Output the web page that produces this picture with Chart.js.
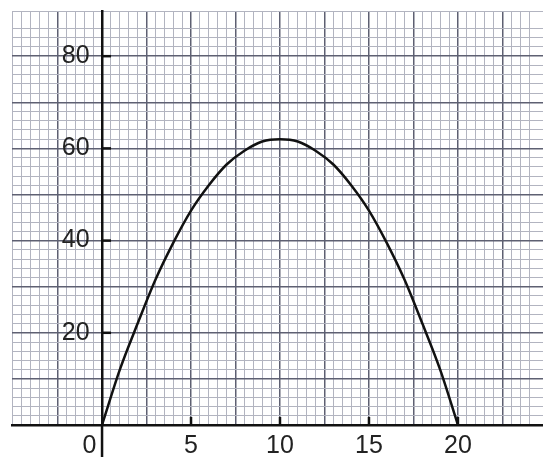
<!DOCTYPE html>
<html><head><meta charset="utf-8">
<script src="https://cdn.jsdelivr.net/npm/chart.js@4/dist/chart.umd.min.js"></script>
<style>html,body{margin:0;padding:0;background:#fff}#w{width:543px;height:466px;position:relative}</style>
</head><body><div id="w"><canvas id="c"></canvas></div>
<script>
// Data
const xValues = [0,1,2,3,4,5,6,7,8,9,10,11,12,13,14,15,16,17,18,19,20];
const yValues = [0,12,22,31.5,39.5,46.5,52,56.5,59.5,61.5,62,61.5,59.5,56.5,52,46.5,39.5,31.5,22,12,0];
const xTickLabels = [0,5,10,15,20];
const yTickLabels = [20,40,60,80];

const points = xValues.map((x,i)=>({x:x,y:yValues[i]}));
const near = (v,m)=>Math.abs(v/m-Math.round(v/m))<1e-6;
const MINOR='#b2b4c0', MAJOR='#5e6072';

const axisExtras = {
  id:'axisExtras',
  afterDraw(chart){
    const c=chart.ctx, xs=chart.scales.x, ys=chart.scales.y;
    const x0=xs.getPixelForValue(0), y0=ys.getPixelForValue(0);
    c.save();
    c.strokeStyle='#111'; c.lineWidth=2.5;
    c.beginPath(); c.moveTo(x0,y0); c.lineTo(x0,y0+32); c.stroke();
    yTickLabels.forEach(v=>{const y=ys.getPixelForValue(v);c.beginPath();c.moveTo(x0,y);c.lineTo(x0+9,y);c.stroke();});
    xTickLabels.forEach(v=>{if(v===0)return;const x=xs.getPixelForValue(v);c.beginPath();c.moveTo(x,y0);c.lineTo(x,y0-8);c.stroke();});
    c.restore();
  }
};

new Chart(document.getElementById('c'),{
  type:'scatter',
  data:{datasets:[{data:points,showLine:true,borderColor:'#111',borderWidth:2.5,pointRadius:0,cubicInterpolationMode:'monotone',fill:false}]},
  options:{
    responsive:true,maintainAspectRatio:false,animation:false,
    layout:{padding:{left:12,top:11,right:0,bottom:0}},
    plugins:{legend:{display:false},tooltip:{enabled:false}},
    scales:{
      x:{type:'linear',position:'bottom',min:-5.06,max:24.78,
        afterFit:(s)=>{s.paddingLeft=0;s.paddingRight=0;s.height=41;},
        border:{color:'#111',width:2.5},
        grid:{drawTicks:false,
          color:(ctx)=>near(ctx.tick.value,2.5)?MAJOR:MINOR,
          lineWidth:(ctx)=>near(ctx.tick.value,2.5)?1.5:1},
        ticks:{stepSize:0.5,autoSkip:false,maxRotation:0,padding:6,color:'#222',
          font:{family:'Liberation Sans',size:25},
          callback:(v)=>{
            if(!xTickLabels.some(t=>Math.abs(t-v)<1e-6)) return '';
            return Math.round(v)===0 ? '0\u2003' : String(Math.round(v));
          }}
      },
      y:{type:'linear',position:{x:0},min:0,max:89.8,
        afterFit:(s)=>{s.paddingTop=0;s.paddingBottom=0;},
        border:{color:'#111',width:2.5},
        grid:{drawTicks:false,
          color:(ctx)=>near(ctx.tick.value,10)?MAJOR:MINOR,
          lineWidth:(ctx)=>near(ctx.tick.value,10)?1.5:1},
        ticks:{stepSize:2,autoSkip:false,color:'#222',
          font:{family:'Liberation Sans',size:25},
          callback:(v)=>yTickLabels.some(t=>Math.abs(t-v)<1e-6)?String(Math.round(v))+'\u2002':''}
      }
    }
  },
  plugins:[axisExtras]
});
</script>
</body></html>
